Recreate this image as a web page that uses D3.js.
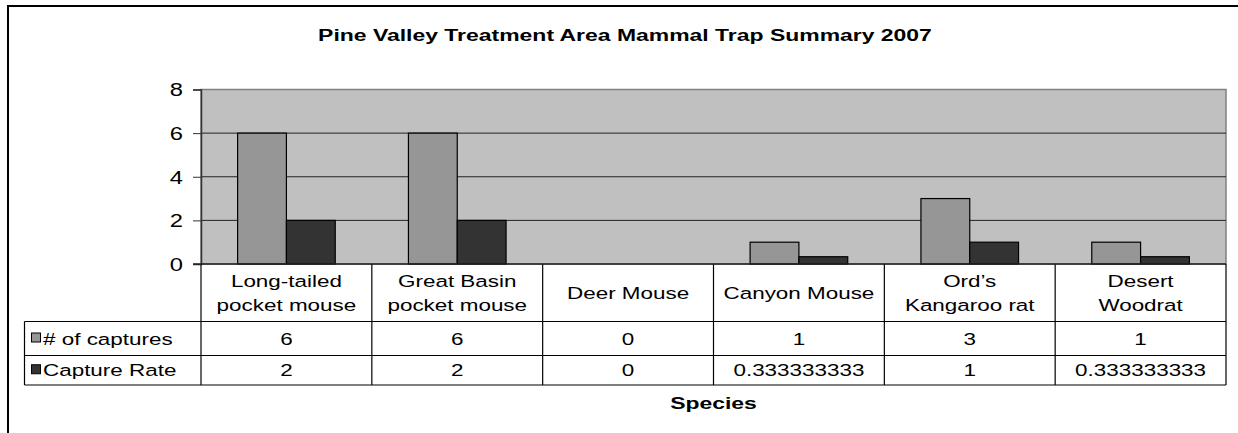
<!DOCTYPE html>
<html>
<head>
<meta charset="utf-8">
<script src="https://cdn.jsdelivr.net/npm/d3@7"></script>
<style>
  html, body { margin: 0; padding: 0; background: #fff; }
  svg { display: block; }
  text { font-family: "Liberation Sans", Arial, sans-serif; fill: #000; }
</style>
</head>
<body>
<svg id="chart" width="1238" height="433"></svg>
<script>
// chart values
var categories = [
  ["Long-tailed", "pocket mouse"],
  ["Great Basin", "pocket mouse"],
  ["Deer Mouse"],
  ["Canyon Mouse"],
  ["Ord\u2019s", "Kangaroo rat"],
  ["Desert", "Woodrat"]
];
var seriesNames = ["# of captures", "Capture Rate"];
var captures = [6, 6, 0, 1, 3, 1];
var captureRate = [2, 2, 0, 0.333333333, 1, 0.333333333];
var yTicks = [0, 2, 4, 6, 8];

var series = [captures, captureRate];
var colors = ["#969696", "#333333"];

// the original picture is stretched sideways, so text is widened too
var SX = 1.32;

var svg = d3.select("#chart");

// outer chart frame (runs off the right and bottom edges)
svg.append("rect")
    .attr("x", 8).attr("y", 6)
    .attr("width", 1240).attr("height", 440)
    .attr("fill", "#fff")
    .attr("stroke", "#000")
    .attr("stroke-width", 2);

var plot = { left: 201, right: 1226, top: 89.5, bottom: 264 };
var tableLeft = 24.5;
var rowLines = [264, 321.5, 355.5, 385];

var x = d3.scaleBand()
    .domain(d3.range(categories.length))
    .range([plot.left, plot.right]);

// gap width 150% like the spreadsheet default
var barW = x.bandwidth() / 3.5;
var xs = d3.scaleBand()
    .domain(d3.range(series.length))
    .range([barW * 0.75, barW * 2.75]);

var y = d3.scaleLinear().domain([0, 8]).range([plot.bottom, plot.top]);

function label(g, txt, px, py, opts) {
  opts = opts || {};
  return g.append("text")
      .attr("transform", "translate(" + px + "," + py + ") scale(" + (opts.sx || SX) + ",1)")
      .attr("text-anchor", opts.anchor || "middle")
      .style("font-size", (opts.size || 17) + "px")
      .style("font-weight", opts.bold ? "bold" : "normal")
      .text(txt);
}

// title
label(svg, "Pine Valley Treatment Area Mammal Trap Summary 2007", 625, 40.5, { bold: true, size: 17, sx: 1.35 });

// plot background
svg.append("rect")
    .attr("x", plot.left).attr("y", plot.top)
    .attr("width", plot.right - plot.left)
    .attr("height", plot.bottom - plot.top)
    .attr("fill", "#c0c0c0")
    .attr("stroke", "#808080")
    .attr("stroke-width", 1.5);

// gridlines
svg.append("g")
  .selectAll("line")
  .data(yTicks.filter(function(d) { return d > 0 && d < 8; }))
  .join("line")
    .attr("x1", plot.left).attr("x2", plot.right)
    .attr("y1", function(d) { return y(d); })
    .attr("y2", function(d) { return y(d); })
    .attr("stroke", "#222")
    .attr("stroke-width", 1);

// bars
series.forEach(function(vals, si) {
  svg.append("g")
    .selectAll("rect")
    .data(vals)
    .join("rect")
      .attr("x", function(d, i) { return x(i) + xs(si); })
      .attr("y", function(d) { return y(d); })
      .attr("width", xs.bandwidth())
      .attr("height", function(d) { return y(0) - y(d); })
      .attr("fill", colors[si])
      .attr("stroke", "#000")
      .attr("stroke-width", 1.2)
      .style("display", function(d) { return d > 0 ? null : "none"; });
});

// y axis
var yAxis = svg.append("g")
    .attr("transform", "translate(" + plot.left + ",0)")
    .call(d3.axisLeft(y).tickValues(yTicks).tickSize(8).tickFormat(d3.format("d")));
yAxis.select(".domain").attr("stroke", "#333").attr("stroke-width", 1.5);
yAxis.selectAll(".tick line").attr("stroke", "#333");
yAxis.selectAll(".tick text")
    .attr("x", null)
    .attr("dy", "0.36em")
    .attr("transform", "translate(-18,0) scale(" + SX + ",1)")
    .style("font-size", "18px")
    .style("font-family", "'Liberation Sans', Arial, sans-serif")
    .attr("fill", "#000");

// data table
var tbl = svg.append("g");
var lineStyle = function(sel) { return sel.attr("stroke", "#000").attr("stroke-width", 1.2); };

// horizontal rules
rowLines.slice(1).forEach(function(ry) {
  tbl.append("line").attr("x1", tableLeft).attr("x2", plot.right)
      .attr("y1", ry).attr("y2", ry).call(lineStyle);
});
// vertical rules between categories
d3.range(categories.length + 1).forEach(function(i) {
  var vx = i < categories.length ? x(i) : plot.right;
  tbl.append("line").attr("x1", vx).attr("x2", vx)
      .attr("y1", rowLines[0]).attr("y2", rowLines[3]).call(lineStyle);
});
tbl.append("line").attr("x1", tableLeft).attr("x2", tableLeft)
    .attr("y1", rowLines[1]).attr("y2", rowLines[3]).call(lineStyle);
// x axis line
tbl.append("line").attr("x1", plot.left - 8).attr("x2", plot.right)
    .attr("y1", plot.bottom).attr("y2", plot.bottom)
    .attr("stroke", "#222").attr("stroke-width", 1.5);

// category headers
categories.forEach(function(lines, i) {
  var cx = x(i) + x.bandwidth() / 2;
  if (lines.length === 1) {
    label(tbl, lines[0], cx, 299);
  } else {
    label(tbl, lines[0], cx, 287);
    label(tbl, lines[1], cx, 311);
  }
});

function fmt(v) {
  return Number.isInteger(v) ? String(v) : v.toFixed(9);
}

// series rows
series.forEach(function(vals, si) {
  var top = rowLines[si + 1], bot = rowLines[si + 2];
  var mid = (top + bot) / 2;
  tbl.append("rect")
      .attr("x", 31.5).attr("y", mid - 5.5)
      .attr("width", 9).attr("height", 9)
      .attr("fill", colors[si])
      .attr("stroke", "#000").attr("stroke-width", 1);
  label(tbl, seriesNames[si], 43, mid + 6, { anchor: "start" });
  vals.forEach(function(v, i) {
    label(tbl, fmt(v), x(i) + x.bandwidth() / 2, mid + 6);
  });
});

// x axis title
label(svg, "Species", (plot.left + plot.right) / 2, 409, { bold: true, size: 17, sx: 1.35 });
</script>
</body>
</html>
